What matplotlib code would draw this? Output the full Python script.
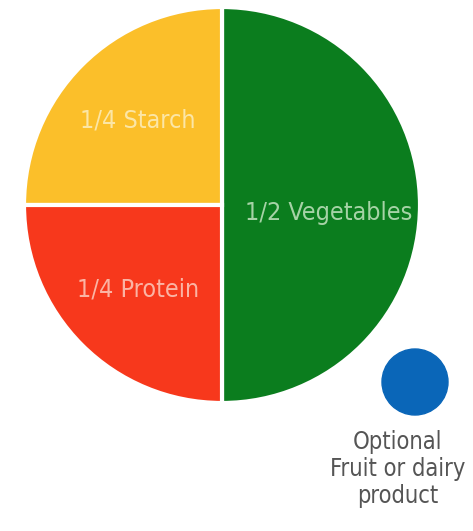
import matplotlib.pyplot as plt
from matplotlib.patches import Circle

# plate portions
portions = ['1/2 Vegetables', '1/4 Starch', '1/4 Protein']
shares = [2, 1, 1]
colors = ['#0b7d1e', '#fbbf2a', '#f7381c']
text_colors = ['#a6d3a6', '#fbe6a6', '#fbb4a4']

optional_label = 'Optional\nFruit or dairy\nproduct'
optional_color = '#0a66b8'

plt.rcParams['font.family'] = ['DejaVu Sans']
plt.rcParams['font.stretch'] = 'condensed'

fig = plt.figure(figsize=(4.73, 5.31), dpi=100)
ax = fig.add_axes([0, 0, 1, 1])
ax.set_xlim(0, 473)
ax.set_ylim(0, 531)
ax.set_aspect('equal')
ax.axis('off')

wedges, texts = ax.pie(shares, labels=portions, colors=colors, startangle=-90,
                       center=(222, 326), radius=198, labeldistance=0.6,
                       wedgeprops=dict(edgecolor='white', linewidth=3),
                       textprops=dict(fontsize=18, ha='center', va='center'))
for t, c in zip(texts, text_colors):
    t.set_color(c)
texts[0].set_position((329, 318))

# optional side item
ax.add_patch(Circle((415, 149), 33, color=optional_color))
ax.text(398, 62, optional_label, ha='center', va='center', fontsize=17,
        color='#555555', linespacing=1.15)

# pie() resets limits, so set them again
ax.set_xlim(0, 473)
ax.set_ylim(0, 531)

fig.savefig('out.png', dpi=100)
